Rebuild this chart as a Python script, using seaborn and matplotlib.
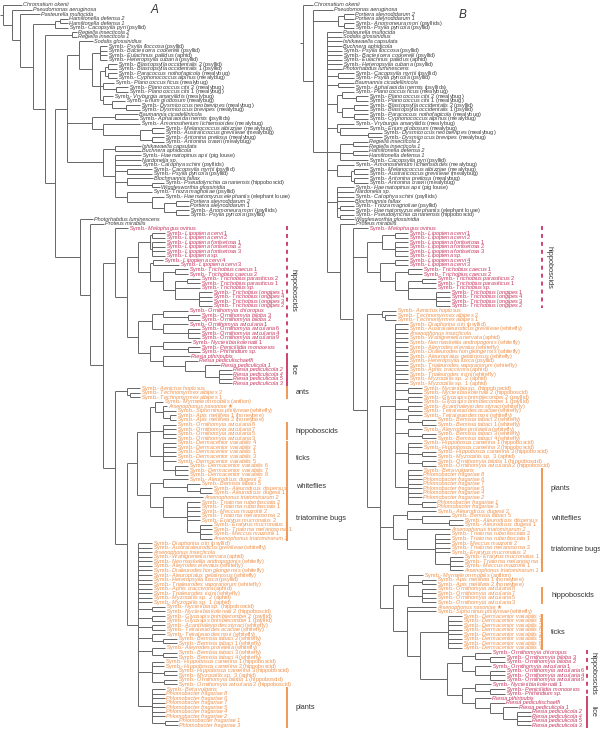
import re
import matplotlib
matplotlib.use("Agg")
import matplotlib.pyplot as plt
import seaborn as sns
from matplotlib.collections import LineCollection

# ---------------------------------------------------------------- labels (panel A, top to bottom)
A_BLACK = [
    "Chromatium okenii", "Pseudomonas aeruginosa", "Pasteurella multocida",
    "Hamiltonella defensa 2", "Hamiltonella defensa 1", "Symb.- Cacopsylla pyri (psyllid)",
    "Regiella insecticola 2", "Regiella insecticola 1", "Sodalis glossinidius",
    "Symb.- Psylla floccosa (psyllid)", "Symb.- Bactericera cockerelli (psyllid)",
    "Symb.- Eulachnus pallidus (aphid)", "Symb.- Heteropsylla cubana (psyllid)",
    "Symb.- Blastopsylla occidentalis 2 (psyllid)", "Symb.- Blastopsylla occidentalis 1 (psyllid)",
    "Symb.- Paracoccus nothofagicola (mealybug)", "Symb.- Cyphonococcus alpinus (mealybug)",
    "Symb.- Planococcus ficus (mealybug)", "Symb.- Planococcus citri 2 (mealybug)",
    "Symb.- Planococcus citri 1 (mealybug)", "Symb.- Vryburgia amaryllidis (mealybug)",
    "Symb.- Erium globosum (mealybug)", "Symb.- Dysmicoccus neobrevipes (mealybug)",
    "Symb.- Dysmicoccus brevipes (mealybug)", "Baumannia cicadellinicola",
    "Symb.- Aphalaroida inermis (psyllids)", "Symb.- Amonostherium lichtensioides (mealybug)",
    "Symb.- Melanococcus albizziae (mealybug)", "Symb.- Australicoccus grevilleae (mealybug)",
    "Symb.- Antonina pretiosa (mealybug)", "Symb.- Antonina crawii (mealybug)",
    "Ishikawaella capsulata", "Buchnera aphidicola", "Symb.- Haematopinus apri (pig louse)",
    "Nardonella sp.", "Symb.- Calophya schini (psyllids)", "Symb.- Cacopsylla myrtii (psyllid)",
    "Symb.- Psylla pyricola (psyllid)", "Blochmannia fallax",
    "Symb.- Pseudolynchia canariensis (hippoboscid)", "Wigglesworthia glossinidia",
    "Symb.- Trioza magnoliae (psyllid)", "Symb.- Haematomyzus elephantis (elephant louse)",
    "Portiera aleyrodidarum 2", "Portiera aleyrodidarum 1", "Symb.- Anomoneura mori (psyllids)",
    "Symb.- Psylla pyricola (psyllid)", "Photorhabdus luminescens", "Proteus mirabilis",
]
A_RED = [
    "Symb.- Melophagus ovinus", "Symb.- Lipoptena cervi 1", "Symb.- Lipoptena cervi 2",
    "Symb.- Lipoptena fortisetosa 1", "Symb.- Lipoptena fortisetosa 2", "Symb.- Lipoptena fortisetosa 3",
    "Symb.- Lipoptena sp.", "Symb.- Lipoptena cervi 4", "Symb.- Lipoptena cervi 3",
    "Symb.- Trichobius caecus 1", "Symb.- Trichobius caecus 2", "Symb.- Trichobius parasiticus 2",
    "Symb.- Trichobius parasiticus 1", "Symb.- Trichobius sp.", "Symb.- Trichobius longipes 1",
    "Symb.- Trichobius longipes 4", "Symb.- Trichobius longipes 3", "Symb.- Trichobius longipes 2",
    "Symb.- Ornithomyia chloropus", "Symb.- Ornithomyia biloba 3", "Symb.- Ornithomyia biloba 2",
    "Symb.- Ornithomyia avicularia 1", "Symb.- Ornithomyia avicularia 6", "Symb.- Ornithomyia avicularia 4",
    "Symb.- Ornithomyia avicularia 9", "Symb.- Nycteribia kolenatii 1", "Symb.- Penicillidia monoceros",
    "Symb.- Phthiridium sp.", "Riesia pthiripubis", "Riesia pediculischaeffi",
    "Riesia pediculicola 1", "Riesia pediculicola 2", "Riesia pediculicola 4",
    "Riesia pediculicola 5", "Riesia pediculicola 3",
]
ANTS = ["Symb.- Aenictus hoplosus", "Symb.- Technomyrmex albipes 2", "Symb.- Technomyrmex albipes 1"]
MIXED = ["Symb.- Myrmeleon mobilis (antlion)", "Arsenophonus nasoniae \u2605",
         "Symb.- Siphoninus phillyreae (whitefly)", "Symb.- Apis mellifera 1 (honeybee)",
         "Symb.- Apis mellifera 2 (honeybee)"]
ORNI_O = ["Symb.- Ornithomyia avicularia 8", "Symb.- Ornithomyia avicularia 7",
          "Symb.- Ornithomyia avicularia 5", "Symb.- Ornithomyia avicularia 3"]
DERM_A = ["Symb.- Dermacentor variabilis 4", "Symb.- Dermacentor variabilis 2",
          "Symb.- Dermacentor variabilis 1", "Symb.- Dermacentor variabilis 3",
          "Symb.- Dermacentor variabilis 5", "Symb.- Dermacentor variabilis 6",
          "Symb.- Dermacentor variabilis 7", "Symb.- Dermacentor variabilis 8"]
WHITEFLY = ["Symb.- Aleurodicus dugesii 2", "Symb.- Bemisia tabaci 5",
            "Symb.- Aleurodicus dispersus", "Symb.- Aleurodicus dugesii 1"]
TRIATO = ["Arsenophonus triatominarum 2", "Symb.- Triatoma rubrofasciata 2",
          "Symb.- Triatoma rubrofasciata 1", "Symb.- Meccus mazzottii 2",
          "Symb.- Triatoma melanosoma 2", "Symb.- Eratyrus mucronatus 2",
          "Symb.- Eratyrus mucronatus 1", "Symb.- Triatoma melanosoma 1",
          "Symb.- Meccus mazzottii 1", "Arsenophonus triatominarum 1"]
POLY = ["Symb.- Diaphorina citri (psyllid)", "Symb.- Australaleurodicus grevilleae (whitefly)",
        "Arsenophonus insecticola", "Symb.- Wahlgreniella nervata (aphid)",
        "Symb.- Neomaskellia andropogonis (whitefly)", "Symb.- Aleyrodes elevatus (whitefly)",
        "Symb.- Dialeurodes hongkongensis (whitefly)", "Symb.- Aleuroplatus gelatinosus (whitefly)",
        "Symb.- Heteropsylla fusca (psyllid)", "Symb.- Trialeurodes vaporariorum (whitefly)",
        "Symb.- Aphis craccivora (aphid)", "Symb.- Trialeurodes ricini (whitefly)",
        "Symb.- Myzocallis sp. 2 (aphid)", "Symb.- Myzocallis sp. 1 (aphid)",
        "Symb.- Nycteribia sp. (hippoboscid)", "Symb.- Nycteribia kolenatii 2 (hippoboscid)",
        "Symb.- Glycaspis brimblecombei 2 (psyllid)", "Symb.- Glycaspis brimblecombei 1 (psyllid)",
        "Symb.- Acanthaleyrodes styraci (whitefly)", "Symb.- Tetraleurodes acaciae (whitefly)",
        "Symb.- Tetraleurodes mori (whitefly)", "Symb.- Bemisia tabaci 2 (whitefly)",
        "Symb.- Bemisia tabaci 1 (whitefly)", "Symb.- Aleyrodes proletella (whitefly)",
        "Symb.- Bemisia tabaci 3 (whitefly)", "Symb.- Bemisia tabaci 4 (whitefly)",
        "Symb.- Hippobosca camelina 1 (hippoboscid)", "Symb.- Hippobosca camelina 2 (hippoboscid)",
        "Symb.- Hippobosca camelina 3 (hippoboscid)", "Symb.- Myzocallis sp. 3 (aphid)",
        "Symb.- Ornithomyia biloba 1 (hippoboscid)", "Symb.- Ornithomyia avicularia 2 (hippoboscid)"]
PLANTS = ["Symb.- Beta vulgaris", "Phlomobacter fragariae 8", "Phlomobacter fragariae 6",
          "Phlomobacter fragariae 7", "Phlomobacter fragariae 5", "Phlomobacter fragariae 4",
          "Phlomobacter fragariae 2", "Phlomobacter fragariae 1", "Phlomobacter fragariae 3"]
A_ORANGE = ANTS + MIXED + ORNI_O + DERM_A + WHITEFLY + TRIATO + POLY + PLANTS

# ---------------------------------------------------------------- labels (panel B, top to bottom)
B_BLACK = [
    "Chromatium okenii", "Pseudomonas aeruginosa", "Portiera aleyrodidarum 2",
    "Portiera aleyrodidarum 1", "Symb.- Anomoneura mori (psyllids)", "Symb.- Psylla pyricola (psyllid)",
    "Pasteurella multocida", "Sodalis glossinidius", "Ishikawaella capsulata", "Buchnera aphidicola",
    "Symb.- Psylla floccosa (psyllid)", "Symb.- Bactericera cockerelli (psyllid)",
    "Symb.- Eulachnus pallidus (aphid)", "Symb.- Heteropsylla cubana (psyllid)",
    "Photorhabdus luminescens", "Symb.- Cacopsylla myrtii (psyllid)", "Symb.- Psylla pyricola (psyllid)",
    "Baumannia cicadellinicola", "Symb.- Aphalaroida inermis (psyllids)",
    "Symb.- Planococcus ficus (mealybug)", "Symb.- Planococcus citri 2 (mealybug)",
    "Symb.- Planococcus citri 1 (mealybug)", "Symb.- Blastopsylla occidentalis 2 (psyllid)",
    "Symb.- Blastopsylla occidentalis 1 (psyllid)", "Symb.- Paracoccus nothofagicola (mealybug)",
    "Symb.- Cyphonococcus alpinus (mealybug)", "Symb.- Vryburgia amaryllidis (mealybug)",
    "Symb.- Erium globosum (mealybug)", "Symb.- Dysmicoccus neobrevipes (mealybug)",
    "Symb.- Dysmicoccus brevipes (mealybug)", "Regiella insecticola 2", "Regiella insecticola 1",
    "Hamiltonella defensa 2", "Hamiltonella defensa 1", "Symb.- Cacopsylla pyri (psyllid)",
    "Symb.- Amonostherium lichtensioides (mealybug)", "Symb.- Melanococcus albizziae (mealybug)",
    "Symb.- Australicoccus grevilleae (mealybug)", "Symb.- Antonina pretiosa (mealybug)",
    "Symb.- Antonina crawii (mealybug)", "Symb.- Haematopinus apri (pig louse)", "Nardonella sp.",
    "Symb.- Calophya schini (psyllids)", "Blochmannia fallax", "Symb.- Trioza magnoliae (psyllid)",
    "Symb.- Haematomyzus elephantis (elephant louse)",
    "Symb.- Pseudolynchia canariensis (hippoboscid)", "Wigglesworthia glossinidia",
    "Proteus mirabilis",
]
B_RED_TOP = A_RED[:18]
B_ORANGE = (ANTS + POLY + PLANTS + WHITEFLY + TRIATO + MIXED[:1] + MIXED[3:] + ORNI_O
            + MIXED[1:3] +
            ["Symb.- Dermacentor variabilis 4", "Symb.- Dermacentor variabilis 1",
             "Symb.- Dermacentor variabilis 3", "Symb.- Dermacentor variabilis 8",
             "Symb.- Dermacentor variabilis 2", "Symb.- Dermacentor variabilis 5",
             "Symb.- Dermacentor variabilis 6", "Symb.- Dermacentor variabilis 7"])
B_RED_BOTTOM = A_RED[18:]

# ---------------------------------------------------------------- tree shapes
# a leaf is its branch length; a clade is (branch length, child, child, ...)
ENT_A = (12,
         (12, 14, (13, (8, 7, 7, 7, 7),
                   (8, (5, (3, 9, 9), (3, 9, 9)), (3, 11, (13, 12, 12)),
                    (3, 10, (9, 13, (14, 14, 14)))))),
         (25, (23, 23, 23), (11, 37, (37, (12, 12, 12), (12, 12, 12)))),
         (36, (12, 26, 26),
          (12, 26, 26, 26, (12, 25, 25), (12, 26, (25, 12, 8)),
           (12, 25, (25, 12, (12, (12, 13, 13), (12, 13, 13)))))))
RED_A = (12, 13,
         (12,
          (11, (12, (2, 13, 13), (2, 13, 13, 13, 13)),
           (12, (3, 10, 26), (13, (12, 13, 13), (12, (12, 13, 13), 25, (24, 13, 13, 13, 13))))),
          (11, (14, (11, 25, (25, 12, 12)), (11, 25, (25, 12, 12, 12))),
           (12, (13, 28, (25, 12, 12)), (13, 27, (22, 13, (20, 15, (14, 13, 13, 13, 13))))))))
ORANGE_A = (12, (12, 13, (3, 10, 10)),
            (12,
             (10,
              (13, (5, 8, (8, 4, 13, (7, 6, 6))), (13, 13, 13, 13, 13),
               (13, 13, 13, 13, 13, 13, (12, 13, 13, 13))),
              (13, (13, 25, (24, 13, (13, 12, 12))),
               (13, 40, (24, 13, 13, 13, 13, 13, (13, 12, 12, 12, 12))))),
             (11, 14, 14, 14, 14, 14, 14, 14, 14, 14, 14, 14, 14, 14, 14,
              (14, 13, 13), (14, 13, 13), (14, 13, 13), (14, 13, (11, 14, 14)),
              (14, 13, (11, 14, 14)), (14, 12, 12, (12, 13, 13), (12, 13, 13)),
              (14, 13, 13, 13, 13, 13, 13, 13, (13, 13, 13)))))
TREE_A = (3, 19, (9, 20, (8, 20, (13, (22, (5, 8, 8), 13),
                                  (12, (27, 5, 5), (10, ENT_A, (25, 13, (10, 14, (13, RED_A, ORANGE_A)))))))))

RED_TOP_B = (14, (15, (13, 13, 13), (13, 13, 13, 13, 13)),
             (13, (15, 13, 13), (15, (13, 14, 14), (13, (14, 14, 14), 28, (28, 14, 14, 14, 14)))))
ORANGE_B = (14, (15, 14, (3, 11, 11)),
            (13,
             (15, 13, 13, 13, 13, 13, 13, 13, 13, 13, 13, 13, 13, 13, 13,
              (13, 14, 14), (13, 14, 14), (13, 14, 14), (13, 14, (14, 14, 14)),
              (13, 14, (14, 14, 14)), (13, 14, 14, (14, 14, 14), (14, 14, 14)),
              (13, 14, 14, 14, 14, 14, 14, 14, (14, 14, 14))),
             (13, (14, 29, (15, 28, (27, 14, 14))),
              (14, 43, (28, 15, 15, 15, 15, 15, (15, 13, 13, 13, 13)))),
             (13, (15, 15, (14, 14, 14), (14, 14, 14, 14, 14)),
              (14, 29, 29,
               (13, (28, 14, 14, 14, 14, 14, 14, 14, 14),
                (27, (15, (13, 16, (15, 15, 15)), (13, 16, (15, 15, 15, 15))),
                 (15, (13, 16, (15, 15, 15)),
                  (13, 16, (15, 15, (13, 15, (14, 14, 14, 14, 14)))))))))))
TREE_B = (3, 10, (10, 20, (25, (6, 10, 10), (6, 10, 10)),
                  (14, 15, 15, 15, 15, 15, 15, 15, 15, 15, (11, 16, 16), (11, 16, 16),
                   (10, (5, 12, (14, 12, 12)), (5, (12, 14, 14), (12, 14, 14))),
                   (10, 17, (3, 28, (28, 14, 14))),
                   (13, (13, 15, 15), (13, 15, 15), 28),
                   (10, 17, (14, (3, 14, 14), (3, 14, 14))),
                   (10, 17, 17, 17, 17, (3, 14, 14), (3, 14, 14)),
                   (13, 15, (13, 15, RED_TOP_B, ORANGE_B)))))

# ---------------------------------------------------------------- groups
A_GROUPS = ["hippoboscids", "lice", "ants", "hippoboscids", "ticks", "whiteflies", "triatomine bugs", "plants"]
A_GROUP_START = [49, 77, 84, 92, 96, 104, 108, 150]
A_GROUP_END = [76, 83, 86, 95, 103, 107, 117, 158]
A_GROUP_KIND = ["red-dash", "red", "orange", "orange", "orange", "orange", "orange", "orange"]
B_GROUPS = ["hippoboscids", "plants", "whiteflies", "triatomine bugs", "hippoboscids", "ticks", "hippoboscids", "lice"]
B_GROUP_START = [49, 102, 111, 115, 128, 134, 142, 152]
B_GROUP_END = [66, 110, 114, 124, 131, 141, 151, 158]
B_GROUP_KIND = ["red-dash", "orange", "orange", "orange", "orange", "orange", "red-dash", "red"]
B_GROUP_X = [542, 542, 542, 542, 542, 542, 587, 587]

BLACK, RED, ORANGE, LINE = "#3c3c3c", "#c8355f", "#f0914a", "#666666"

# ---------------------------------------------------------------- style
sns.set_theme(style="white")
plt.rcParams["font.family"] = ["Liberation Sans", "DejaVu Sans"]
plt.rcParams["mathtext.fontset"] = "custom"
plt.rcParams["mathtext.rm"] = "Liberation Sans"
plt.rcParams["mathtext.it"] = "Liberation Sans:italic"
plt.rcParams["mathtext.bf"] = "Liberation Sans:bold"

fig = plt.figure(figsize=(6, 7.3), dpi=100)
ax = fig.add_axes([0, 0, 1, 1])
ax.set_xlim(0, 600)
ax.set_ylim(158.99, -1.096)
ax.axis("off")


def layout(node, x0, counter, segs, tips):
    if isinstance(node, tuple):
        x = x0 + node[0]
        ys = [layout(ch, x, counter, segs, tips) for ch in node[1:]]
        segs.append([(x, ys[0]), (x, ys[-1])])
        y = (ys[0] + ys[-1]) / 2
        segs.append([(x0, y), (x, y)])
        return y
    i = counter[0]
    counter[0] += 1
    segs.append([(x0, i), (x0 + node, i)])
    tips.append((i, x0 + node))
    return i


def fmt(s):
    if s.startswith("Symb.- "):
        m = re.match(r"(.*?)(\s\(.*\))?$", s[7:])
        name, host = m.group(1), m.group(2) or ""
        return "Symb.- $\\mathit{" + name.replace(" ", "\\ ") + "}$" + host, "normal"
    return s, "italic"


def draw_tree(tree, x_off, labels, colors):
    segs, tips = [], []
    layout(tree, x_off, [0], segs, tips)
    ax.add_collection(LineCollection(segs, colors=LINE, linewidths=0.7))
    for i, x in tips:
        txt, style = fmt(labels[i])
        ax.text(x + 1.3, i, txt, fontsize=4.0, color=colors[i], style=style,
                va="center", ha="left")


def draw_groups(names, starts, ends, kinds, xs, rot_dx, hor_dx):
    for name, s, e, k, x in zip(names, starts, ends, kinds, xs):
        col = ORANGE if k == "orange" else RED
        ls = (0, (2.2, 2.2)) if k == "red-dash" else "-"
        ax.plot([x, x], [s - 0.45, e + 0.45], color=col, lw=1.3, ls=ls, solid_capstyle="butt")
        if k == "orange":
            ax.text(x + hor_dx, (s + e) / 2, name, fontsize=5.3, color="#333333",
                    va="center", ha="left")
        else:
            ax.text(x + rot_dx, (s + e) / 2, name, fontsize=5.3, color="#333333",
                    va="center", ha="center", rotation=270)


colors_a = [BLACK] * len(A_BLACK) + [RED] * len(A_RED) + [ORANGE] * len(A_ORANGE)
colors_b = ([BLACK] * len(B_BLACK) + [RED] * len(B_RED_TOP) + [ORANGE] * len(B_ORANGE)
            + [RED] * len(B_RED_BOTTOM))

draw_tree(TREE_A, 0, A_BLACK + A_RED + A_ORANGE, colors_a)
draw_tree(TREE_B, 300, B_BLACK + B_RED_TOP + B_ORANGE + B_RED_BOTTOM, colors_b)
draw_groups(A_GROUPS, A_GROUP_START, A_GROUP_END, A_GROUP_KIND, [287] * 8, 6.5, 9)
draw_groups(B_GROUPS, B_GROUP_START, B_GROUP_END, B_GROUP_KIND, B_GROUP_X, 6.5, 9)

ax.text(155, 1.1, "A", fontsize=8.5, style="italic", color="#333333", ha="center", va="center")
ax.text(463, 2.2, "B", fontsize=8.5, style="italic", color="#333333", ha="center", va="center")

fig.savefig("out.png", dpi=100)
